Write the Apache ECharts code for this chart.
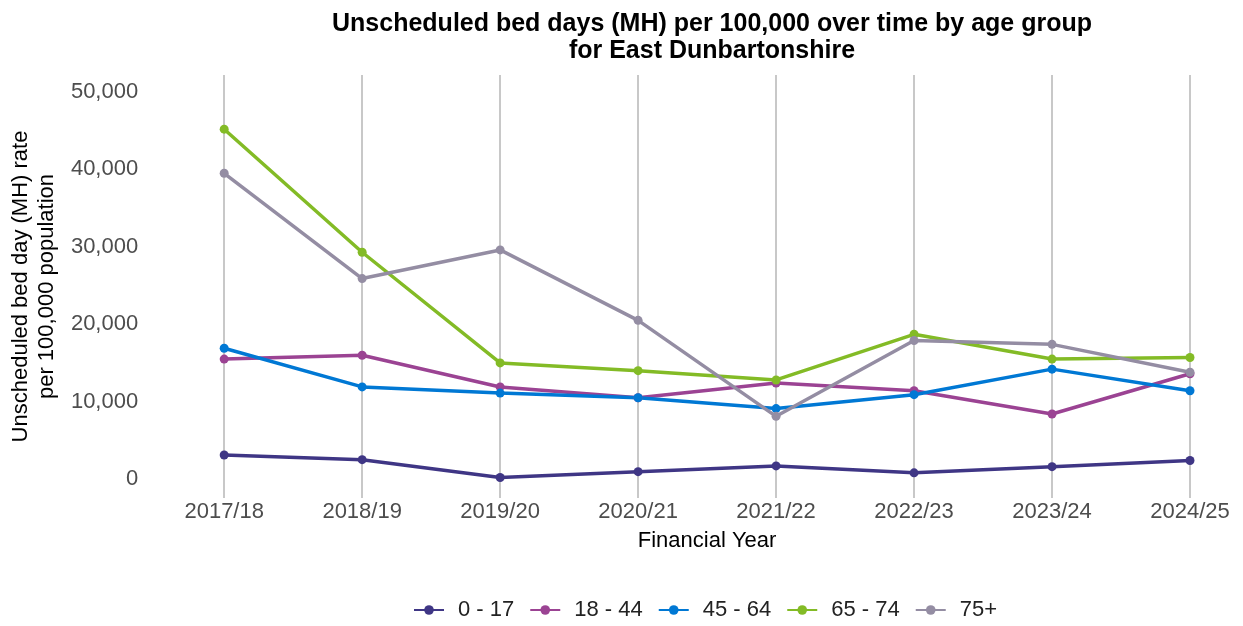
<!DOCTYPE html>
<html>
<head>
<meta charset="utf-8">
<script src="https://cdn.jsdelivr.net/npm/echarts@6/dist/echarts.min.js"></script>
<style>
  html, body { margin: 0; padding: 0; background: #fff; }
  #chart { width: 1243px; height: 626px; }
</style>
</head>
<body>
<div id="chart"></div>
<script>
// Financial years shown along the x axis
const years = ['2017/18', '2018/19', '2019/20', '2020/21', '2021/22', '2022/23', '2023/24', '2024/25'];

// Unscheduled MH bed days per 100,000 population, by age group
const age0to17  = [3100, 2500, 200, 950, 1700, 800, 1600, 2400];
const age18to44 = [15500, 16000, 11900, 10500, 12400, 11400, 8400, 13600];
const age45to64 = [16900, 11900, 11100, 10500, 9100, 10900, 14200, 11400];
const age65to74 = [45200, 29300, 15000, 14000, 12800, 18700, 15500, 15700];
const age75plus = [39500, 25900, 29600, 20500, 8100, 17900, 17400, 13800];

// Labelled y ticks
const yTicks = [0, 10000, 20000, 30000, 40000, 50000];

const groupNames  = ['0 - 17', '18 - 44', '45 - 64', '65 - 74', '75+'];
const groupColors = ['#3F3685', '#9B4393', '#0078D4', '#83BB26', '#948DA3'];
const groupValues = [age0to17, age18to44, age45to64, age65to74, age75plus];

const font = 'Liberation Sans, Arial, sans-serif';

const chart = echarts.init(document.getElementById('chart'), null, { renderer: 'canvas' });

chart.setOption({
  animation: false,
  backgroundColor: '#ffffff',
  textStyle: { fontFamily: font },
  title: {
    text: 'Unscheduled bed days (MH) per 100,000 over time by age group\nfor East Dunbartonshire',
    left: 707,
    top: 6,
    textAlign: 'center',
    textStyle: {
      fontFamily: font,
      fontWeight: 'bold',
      fontSize: 25,
      lineHeight: 27,
      color: '#000'
    }
  },
  legend: {
    left: 408,
    top: 594,
    itemWidth: 30,
    itemHeight: 12,
    itemGap: 15,
    textStyle: { fontFamily: font, fontSize: 22, color: '#222', padding: [0, 0, 0, 9] },
    data: groupNames
  },
  grid: { left: 223, right: 53, top: 75, bottom: 128, containLabel: false },
  xAxis: {
    type: 'category',
    data: years,
    boundaryGap: false,
    name: 'Financial Year',
    nameLocation: 'middle',
    nameGap: 32,
    nameTextStyle: { fontFamily: font, fontSize: 22, color: '#000' },
    axisLine: { show: false },
    axisTick: { show: false },
    axisLabel: { fontFamily: font, fontSize: 22, color: '#4d4d4d', margin: 3 },
    splitLine: { show: true, lineStyle: { color: '#c8c8c8', width: 2 } }
  },
  yAxis: {
    type: 'value',
    min: -2450,
    max: 52200,
    name: 'Unscheduled bed day (MH) rate\nper 100,000 population',
    nameLocation: 'middle',
    nameGap: 163,
    nameTextStyle: { fontFamily: font, fontSize: 22, color: '#000', lineHeight: 26 },
    axisLine: { show: false },
    axisTick: { show: false },
    splitLine: { show: false },
    axisLabel: {
      customValues: yTicks,
      fontFamily: font,
      fontSize: 22,
      color: '#4d4d4d',
      margin: 86,
      formatter: v => Number(v).toLocaleString('en-GB')
    }
  },
  series: groupNames.map((name, i) => ({
    name,
    type: 'line',
    data: groupValues[i],
    symbol: 'circle',
    symbolSize: 9,
    color: groupColors[i],
    lineStyle: { width: 3.5, color: groupColors[i] },
    itemStyle: { color: groupColors[i] }
  }))
});
</script>
</body>
</html>
